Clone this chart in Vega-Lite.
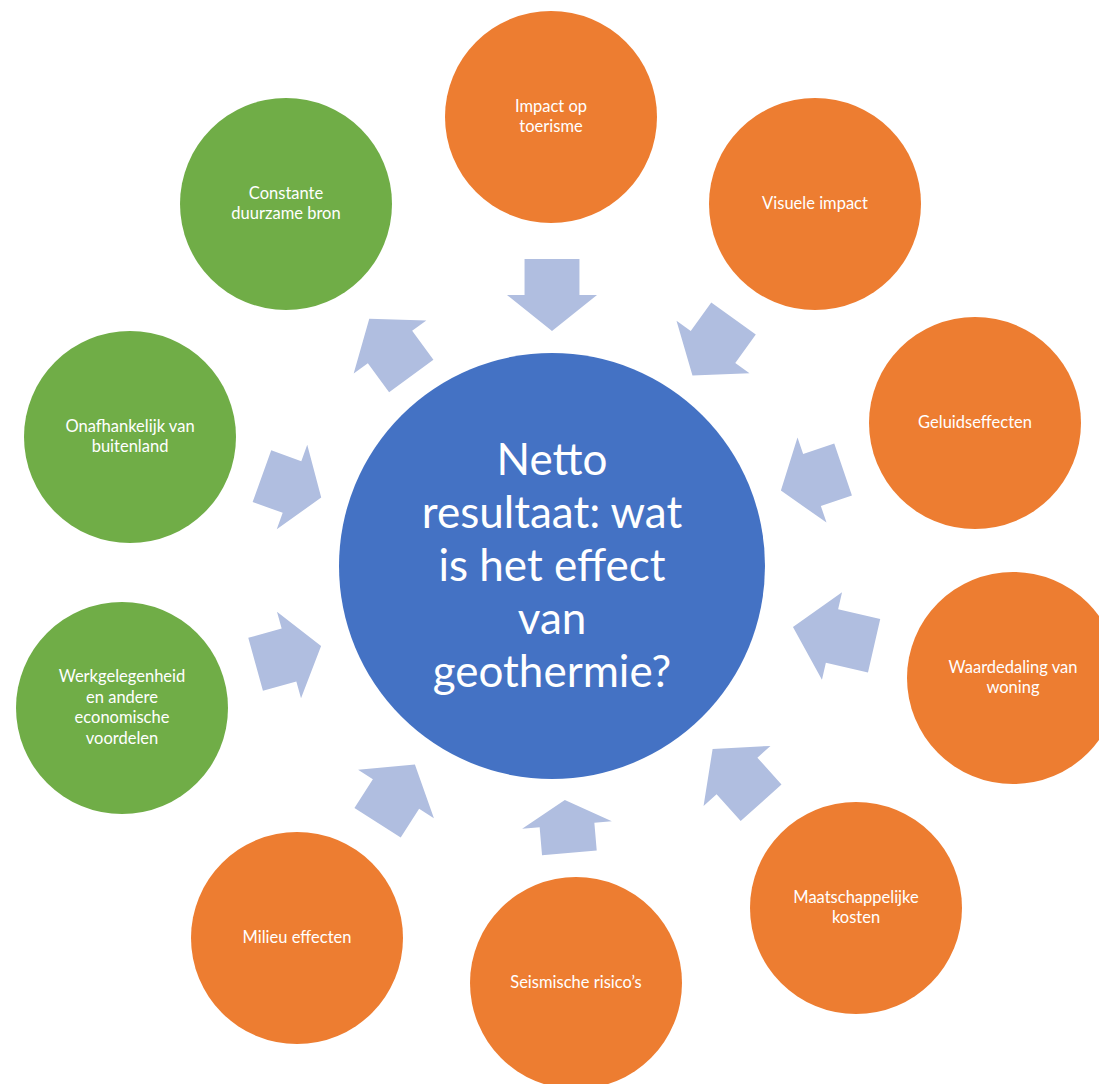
{
  "$schema": "https://vega.github.io/schema/vega-lite/v6.json",
  "width": 1099,
  "height": 1084,
  "padding": 0,
  "background": "white",
  "config": {"view": {"stroke": null}},
  "datasets": {
    "nodes": [
      {"label": "Netto\nresultaat: wat\nis het effect\nvan\ngeothermie?", "group": "centrum", "x": 552, "y": 566},
      {"label": "Impact op\ntoerisme", "group": "negatief", "x": 551, "y": 117},
      {"label": "Visuele impact", "group": "negatief", "x": 815, "y": 204},
      {"label": "Geluidseffecten", "group": "negatief", "x": 975, "y": 423},
      {"label": "Waardedaling van\nwoning", "group": "negatief", "x": 1013, "y": 678},
      {"label": "Maatschappelijke\nkosten", "group": "negatief", "x": 856, "y": 908},
      {"label": "Seismische risico’s", "group": "negatief", "x": 576, "y": 983},
      {"label": "Milieu effecten", "group": "negatief", "x": 297, "y": 938},
      {"label": "Werkgelegenheid\nen andere\neconomische\nvoordelen", "group": "positief", "x": 122, "y": 708},
      {"label": "Onafhankelijk van\nbuitenland", "group": "positief", "x": 130, "y": 437},
      {"label": "Constante\nduurzame bron", "group": "positief", "x": 286, "y": 204}
    ],
    "arrows": [
      {"target": "Impact", "x": 552, "y": 295, "angle": 0},
      {"target": "Visuele", "x": 713, "y": 347, "angle": 35.8},
      {"target": "Geluid", "x": 812, "y": 480, "angle": 71.2},
      {"target": "Waardedaling", "x": 832, "y": 636, "angle": 102.9},
      {"target": "Maatschappelijk", "x": 737, "y": 776, "angle": 138},
      {"target": "Seismisch", "x": 567, "y": 825, "angle": 175.1},
      {"target": "Milieu", "x": 396, "y": 794, "angle": -147.4},
      {"target": "Werkgelegenheid", "x": 289, "y": 655, "angle": -105.5},
      {"target": "Onafhankelijk", "x": 292, "y": 487, "angle": -70.2},
      {"target": "Constante", "x": 390, "y": 347, "angle": 143.8}
    ]
  },
  "encoding": {
    "x": {"field": "x", "type": "quantitative", "scale": {"domain": [0, 1099], "nice": false, "zero": false}, "axis": null},
    "y": {"field": "y", "type": "quantitative", "scale": {"domain": [0, 1084], "nice": false, "zero": false, "reverse": true}, "axis": null}
  },
  "layer": [
    {
      "data": {"name": "nodes"},
      "transform": [{"filter": "datum.group !== 'centrum'"}],
      "mark": {"type": "point", "shape": "circle", "filled": true, "opacity": 1, "size": 44944, "strokeWidth": 0},
      "encoding": {
        "color": {"field": "group", "type": "nominal", "scale": {"domain": ["centrum", "negatief", "positief"], "range": ["#4472C4", "#ED7D31", "#70AD47"]}, "legend": null}
      }
    },
    {
      "data": {"name": "nodes"},
      "transform": [{"filter": "datum.group === 'centrum'"}],
      "mark": {"type": "point", "shape": "circle", "filled": true, "opacity": 1, "size": 181476, "strokeWidth": 0},
      "encoding": {
        "color": {"field": "group", "type": "nominal", "scale": {"domain": ["centrum", "negatief", "positief"], "range": ["#4472C4", "#ED7D31", "#70AD47"]}, "legend": null}
      }
    },
    {
      "data": {"name": "arrows"},
      "mark": {"type": "point", "filled": true, "opacity": 1, "size": 8100, "strokeWidth": 0, "color": "#B0BEE0"},
      "encoding": {
        "angle": {"field": "angle", "type": "quantitative", "scale": null},
        "shape": {
          "field": "target", "type": "nominal", "legend": null,
          "scale": {
            "domain": ["Impact", "Visuele", "Geluid", "Waardedaling", "Maatschappelijk", "Seismisch", "Milieu", "Werkgelegenheid", "Onafhankelijk", "Constante"],
            "range": [
              "M -0.61 -0.8 L 0.61 -0.8 L 0.61 0 L 1 0 L 0 0.8 L -1 0 L -0.61 0 Z",
              "M -0.61 -0.78 L 0.61 -0.78 L 0.61 0 L 1 0 L 0 0.78 L -1 0 L -0.61 0 Z",
              "M -0.61 -0.73 L 0.61 -0.73 L 0.61 0 L 1 0 L 0 0.73 L -1 0 L -0.61 0 Z",
              "M -0.61 -0.96 L 0.61 -0.96 L 0.61 0 L 1 0 L 0 0.89 L -1 0 L -0.61 0 Z",
              "M -0.61 -0.8 L 0.61 -0.8 L 0.61 0 L 1 0 L 0 0.81 L -1 0 L -0.61 0 Z",
              "M -0.61 -0.62 L 0.61 -0.62 L 0.61 0 L 1 0 L 0 0.56 L -1 0 L -0.61 0 Z",
              "M -0.61 -0.76 L 0.61 -0.76 L 0.61 0 L 1 0 L 0 0.78 L -1 0 L -0.61 0 Z",
              "M -0.61 -0.77 L 0.61 -0.77 L 0.61 0 L 1 0 L 0 0.74 L -1 0 L -0.61 0 Z",
              "M -0.61 -0.71 L 0.61 -0.71 L 0.61 0 L 1 0 L 0 0.69 L -1 0 L -0.61 0 Z",
              "M -0.61 -0.8 L 0.61 -0.8 L 0.61 0 L 1 0 L 0 0.78 L -1 0 L -0.61 0 Z"
            ]
          }
        }
      }
    },
    {
      "data": {"name": "nodes"},
      "transform": [{"filter": "datum.group !== 'centrum' && length(split(datum.label, '\\n')) == 1"}],
      "mark": {"type": "text", "color": "white", "font": "Lato", "fontSize": 16.5, "lineHeight": 20.5, "lineBreak": "\n", "align": "center", "baseline": "middle", "dy": 0},
      "encoding": {"text": {"field": "label", "type": "nominal"}}
    },
    {
      "data": {"name": "nodes"},
      "transform": [{"filter": "datum.group !== 'centrum' && length(split(datum.label, '\\n')) == 2"}],
      "mark": {"type": "text", "color": "white", "font": "Lato", "fontSize": 16.5, "lineHeight": 20.5, "lineBreak": "\n", "align": "center", "baseline": "middle", "dy": -10.25},
      "encoding": {"text": {"field": "label", "type": "nominal"}}
    },
    {
      "data": {"name": "nodes"},
      "transform": [{"filter": "datum.group !== 'centrum' && length(split(datum.label, '\\n')) == 4"}],
      "mark": {"type": "text", "color": "white", "font": "Lato", "fontSize": 16.5, "lineHeight": 20.5, "lineBreak": "\n", "align": "center", "baseline": "middle", "dy": -30.75},
      "encoding": {"text": {"field": "label", "type": "nominal"}}
    },
    {
      "data": {"name": "nodes"},
      "transform": [{"filter": "datum.group === 'centrum'"}],
      "mark": {"type": "text", "color": "white", "font": "Lato", "fontSize": 44, "lineHeight": 53, "lineBreak": "\n", "align": "center", "baseline": "middle", "dy": -104},
      "encoding": {"text": {"field": "label", "type": "nominal"}}
    }
  ]
}
